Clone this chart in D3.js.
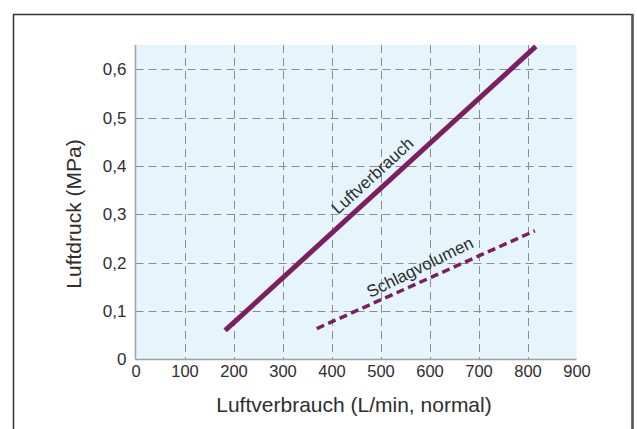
<!DOCTYPE html>
<html>
<head>
<meta charset="utf-8">
<script src="https://cdn.jsdelivr.net/npm/d3@7"></script>
<style>
  html, body { margin: 0; padding: 0; background: #fff; }
  svg { display: block; font-family: "Liberation Sans", Arial, Helvetica, sans-serif; }
</style>
</head>
<body>
<svg id="chart" width="637" height="429"></svg>
<script>
// Axis ticks
const xTicks = [0, 100, 200, 300, 400, 500, 600, 700, 800, 900];
const yTicks = [0, 0.1, 0.2, 0.3, 0.4, 0.5, 0.6];

// Series: air consumption and stroke volume (L/min vs. MPa)
const luftverbrauchX = [183, 817];
const luftverbrauchY = [0.06, 0.647];
const schlagvolumenX = [370, 815];
const schlagvolumenY = [0.064, 0.266];

const svg = d3.select("#chart");
const color = "#7b1f60";
const textColor = "#2e2e2e";
const plot = { left: 135.5, right: 576.5, top: 45, bottom: 359.5 };

const x = d3.scaleLinear().domain([0, 900]).range([plot.left, plot.right]);
const y = d3.scaleLinear().domain([0, 0.65]).range([plot.bottom, plot.top]);

// outer frame
svg.append("rect")
  .attr("x", 13.5).attr("y", 14.5).attr("width", 619).attr("height", 430)
  .attr("fill", "none").attr("stroke", "#333").attr("stroke-width", 1.5);
svg.append("line")
  .attr("x1", 632.5).attr("x2", 632.5).attr("y1", 14).attr("y2", 429)
  .attr("stroke", "#555").attr("stroke-width", 2.5);

// plot background
svg.append("rect")
  .attr("x", plot.left).attr("y", plot.top)
  .attr("width", plot.right - plot.left).attr("height", plot.bottom - plot.top)
  .attr("fill", "#e6f5fc");

// dashed grid
const grid = svg.append("g").attr("stroke", "#8c8c8c").attr("stroke-width", 1)
  .attr("stroke-dasharray", "8,5");
grid.selectAll(".vg").data(xTicks.filter(d => d > 0 && d < 900)).join("line")
  .attr("x1", d => Math.round(x(d)) + 0.5).attr("x2", d => Math.round(x(d)) + 0.5)
  .attr("y1", plot.top).attr("y2", plot.bottom);
grid.selectAll(".hg").data(yTicks.filter(d => d > 0)).join("line")
  .attr("x1", plot.left).attr("x2", plot.right)
  .attr("y1", d => Math.round(y(d)) + 0.5).attr("y2", d => Math.round(y(d)) + 0.5);

// axis lines
svg.append("line").attr("x1", plot.left).attr("x2", plot.left)
  .attr("y1", plot.top).attr("y2", plot.bottom)
  .attr("stroke", "#a0a0a0").attr("stroke-width", 1.5);
svg.append("line").attr("x1", plot.left).attr("x2", plot.right)
  .attr("y1", plot.bottom).attr("y2", plot.bottom)
  .attr("stroke", "#a0a0a0").attr("stroke-width", 1.5);

// axes (labels only)
const fmtY = d => d === 0 ? "0" : d3.format(".1f")(d).replace(".", ",");
const xAxis = svg.append("g")
  .attr("transform", `translate(0,${plot.bottom})`)
  .call(d3.axisBottom(x).tickValues(xTicks).tickSize(0).tickPadding(6).tickFormat(d3.format("d")));
xAxis.select(".domain").remove();
xAxis.selectAll("text").attr("font-size", 16.5).attr("fill", textColor)
  .attr("font-family", "'Liberation Sans', Arial, sans-serif");

const yAxis = svg.append("g")
  .attr("transform", `translate(${plot.left},0)`)
  .call(d3.axisLeft(y).tickValues(yTicks).tickSize(0).tickPadding(9).tickFormat(fmtY));
yAxis.select(".domain").remove();
yAxis.selectAll("text").attr("font-size", 17).attr("fill", textColor)
  .attr("font-family", "'Liberation Sans', Arial, sans-serif");

// axis titles
svg.append("text")
  .attr("x", 354).attr("y", 412)
  .attr("text-anchor", "middle").attr("font-size", 21).attr("fill", textColor)
  .text("Luftverbrauch (L/min, normal)");
svg.append("text")
  .attr("transform", `translate(81,${214}) rotate(-90)`)
  .attr("text-anchor", "middle").attr("font-size", 21).attr("fill", textColor)
  .text("Luftdruck (MPa)");

// series lines
const line = d3.line().x(d => x(d[0])).y(d => y(d[1]));
const lvData = d3.zip(luftverbrauchX, luftverbrauchY);
const svData = d3.zip(schlagvolumenX, schlagvolumenY);

svg.append("path").datum(lvData).attr("d", line)
  .attr("fill", "none").attr("stroke", color).attr("stroke-width", 5);
svg.append("path").datum(svData).attr("d", line)
  .attr("fill", "none").attr("stroke", color).attr("stroke-width", 3.5)
  .attr("stroke-dasharray", "8,4.5");

// labels running along each line
function lineLabel(data, atX, text, dy, extraAngle) {
  const [p0, p1] = data;
  const t = (atX - p0[0]) / (p1[0] - p0[0]);
  const vy = p0[1] + t * (p1[1] - p0[1]);
  const px = x(atX), py = y(vy);
  const ang = Math.atan2(y(p1[1]) - y(p0[1]), x(p1[0]) - x(p0[0])) * 180 / Math.PI + extraAngle;
  svg.append("text")
    .attr("transform", `translate(${px},${py}) rotate(${ang})`)
    .attr("dy", dy)
    .attr("text-anchor", "middle").attr("font-size", 17).attr("fill", textColor)
    .text(text);
}
lineLabel(lvData, 504, "Luftverbrauch", -9, 0);
lineLabel(svData, 593, "Schlagvolumen", -8, -2);
</script>
</body>
</html>
